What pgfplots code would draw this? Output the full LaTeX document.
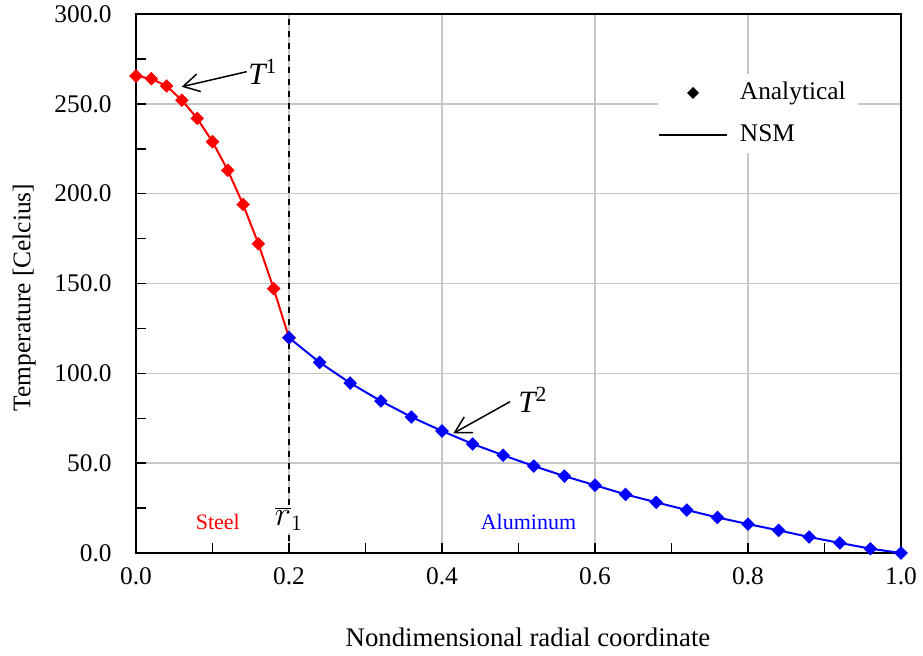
\documentclass[border=0pt]{standalone}
\usepackage{pgfplots}
\pgfplotsset{compat=1.18}
\usepackage{fontspec}
\setmainfont{Liberation Serif}
\usetikzlibrary{arrows.meta,calc}
\pgfplotsset{
  linelegend/.style={legend image code/.code={\draw[##1] (0pt,0pt) -- (34pt,0pt);}},
  marklegend/.style={legend image code/.code={\draw[##1] plot coordinates {(17pt,0pt)};}},
}
\begin{document}
\fontsize{12.7}{15}\selectfont
\begin{tikzpicture}
\begin{axis}[name=ax,
  scale only axis, width=382.5pt, height=269.5pt,
  xmin=0, xmax=1, ymin=0, ymax=300,
  xtick={0,0.2,...,1.0}, minor xtick={0.1,0.3,0.5,0.7,0.9},
  ytick={0,50,...,300}, minor ytick={25,75,...,275},
  tick align=inside, tick pos=left,
  major tick length=5pt, minor tick length=5pt,
  every tick/.style={black, line width=0.75pt},
  axis line style={black, line width=0.9pt},
  grid=major, major grid style={gray!45, line width=0.75pt},
  /pgf/number format/assume math mode=true,
  /pgf/number format/.cd, fixed, fixed zerofill, precision=1, /pgfplots/.cd,
  ticklabel style={font=\fontsize{12.7}{15}\selectfont},
  yticklabel style={anchor=east, inner sep=0pt, xshift=-12pt},
  xticklabel style={anchor=north, inner sep=0pt, yshift=-7pt},
  xlabel={Nondimensional radial coordinate},
  ylabel={Temperature [Celcius]},
  xlabel style={at={(axis description cs:0.5,0)}, anchor=center, xshift=4.75pt, yshift=-42pt, font=\fontsize{13.4}{15}\selectfont},
  ylabel style={at={(axis description cs:-0.146,0.474)}, anchor=center, font=\fontsize{12.7}{15}\selectfont},
  legend style={draw=none, fill=white, at={(rel axis cs:0.682,0.889)}, anchor=north west,
    inner xsep=0pt, inner ysep=2pt, row sep=6.5pt, font=\fontsize{12.7}{15}\selectfont,
    nodes={inner xsep=6pt}},
  legend cell align=left,
  clip=false,
]
\draw[black, dashed, line width=0.75pt] (axis cs:0.2,0) -- (axis cs:0.2,300);
\addplot[red, line width=1pt, mark=square*, mark size=1.9pt, mark options={fill=red, draw=red, rotate=45}, forget plot] coordinates {
(0.00,265.5) (0.02,264.0) (0.04,259.9) (0.06,252.0) (0.08,241.9) (0.10,228.9)
(0.12,213.0) (0.14,194.0) (0.16,172.1) (0.18,147.1) (0.20,119.8)};
\addplot[blue, line width=1pt, mark=square*, mark size=1.9pt, mark options={fill=blue, draw=blue, rotate=45}, forget plot] coordinates {
(0.20,119.8) (0.24,106.1) (0.28,94.6) (0.32,84.6) (0.36,75.7) (0.40,67.9)
(0.44,60.7) (0.48,54.4) (0.52,48.4) (0.56,42.8) (0.60,37.7) (0.64,32.6)
(0.68,28.2) (0.72,23.9) (0.76,19.8) (0.80,16.1) (0.84,12.6) (0.88,8.9)
(0.92,5.6) (0.96,2.4) (1.00,0.0)};
\addlegendimage{black, only marks, mark=square*, mark size=1.9pt, mark options={rotate=45}, marklegend}
\addlegendentry{Analytical}
\addlegendimage{black, line width=0.9pt, linelegend}
\addlegendentry{NSM}
\node[fill=white, inner sep=1pt, font=\fontsize{16}{18}\selectfont] at (axis cs:0.2,19) {$\overline{r}_1$};
\node[red, font=\fontsize{11}{13}\selectfont] at (axis cs:0.107,17.3) {Steel};
\node[blue, font=\fontsize{11}{13}\selectfont] at (axis cs:0.513,17.3) {Aluminum};
\draw[black, line width=0.75pt, -{Straight Barb[length=8pt, width=9pt]}] (axis cs:0.1447,267.9) -- (axis cs:0.0597,259.5);
\node[anchor=west, inner sep=0pt, font=\fontsize{15.5}{17}\selectfont] at (axis cs:0.1464,267.7) {\itshape T\textsuperscript{\upshape 1}};
\draw[black, line width=0.75pt, -{Straight Barb[length=8pt, width=9pt]}] (axis cs:0.4889,84.2) -- (axis cs:0.4148,66.6);
\node[anchor=west, inner sep=0pt, font=\fontsize{15.5}{17}\selectfont] at (axis cs:0.4993,85.2) {\itshape T\textsuperscript{\upshape 2}};
\end{axis}
\pgfresetboundingbox
\path ($(ax.south west)+(-68pt,-51pt)$) rectangle ($(ax.north east)+(11pt,7pt)$);
\end{tikzpicture}
\end{document}
